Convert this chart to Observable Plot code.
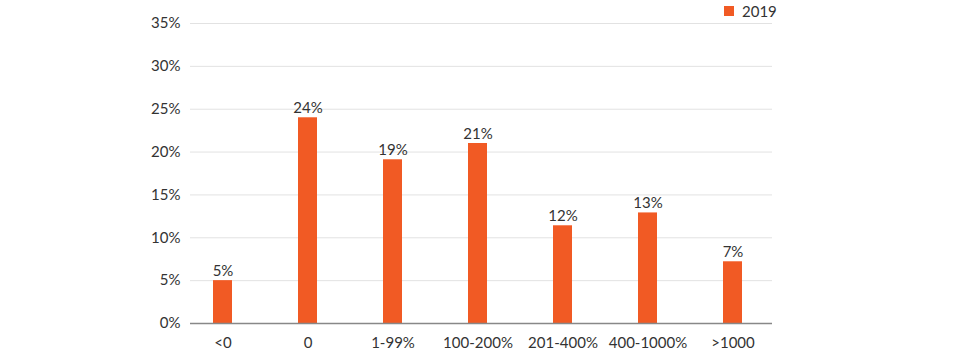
<!DOCTYPE html>
<html>
<head>
<meta charset="utf-8">
<script src="https://cdn.jsdelivr.net/npm/d3@7"></script>
<script src="https://cdn.jsdelivr.net/npm/@observablehq/plot@0.6"></script>
<style>
  html, body { margin: 0; padding: 0; background: #fff; }
  #wrap { position: relative; width: 960px; height: 360px; font-family: Lato, "Noto Sans", sans-serif; }
  #legend { position: absolute; left: 724px; top: 2px; display: flex; align-items: center; gap: 8px; font-size: 15px; color: #333; }
  #legend .sw { width: 10px; height: 10px; background: #f15a24; }
</style>
</head>
<body>
<div id="wrap">
  <div id="chart"></div>
  <div id="legend"><span class="sw"></span><span id="legendLabel"></span></div>
</div>
<script>
const categories = ["<0", "0", "1-99%", "100-200%", "201-400%", "400-1000%", ">1000"];
const values = [5.0, 24.0, 19.1, 21.0, 11.4, 12.9, 7.2];
const valueLabels = ["5%", "24%", "19%", "21%", "12%", "13%", "7%"];
const yTicks = [0, 5, 10, 15, 20, 25, 30, 35];
const seriesName = "2019";
const barColor = "#f15a24";

const data = categories.map((c, i) => ({category: c, value: values[i], label: valueLabels[i]}));

document.getElementById("legendLabel").textContent = seriesName;

const chart = Plot.plot({
  width: 960,
  height: 360,
  marginTop: 23,
  marginBottom: 37,
  marginLeft: 178,
  marginRight: 184,
  style: {fontFamily: "Lato, 'Noto Sans', sans-serif", fontSize: "15px", color: "#333"},
  x: {domain: categories, paddingInner: 0.78, paddingOuter: 0.39, label: null},
  y: {domain: [0, 35], label: null},
  marks: [
    Plot.ruleY(yTicks.filter(d => d > 0), {stroke: "#e2e2e2", strokeWidth: 1, insetLeft: 12, insetRight: 4}),
    Plot.barY(data, {x: "category", y: "value", fill: barColor}),
    Plot.ruleY([0], {stroke: "#888", strokeWidth: 1.5, insetLeft: 12, insetRight: 4}),
    Plot.text(data, {x: "category", y: "value", text: "label", lineAnchor: "bottom", dy: -5, fill: "#333", fontSize: 15}),
    Plot.axisY({ticks: yTicks, tickFormat: d => d + "%", tickSize: 0, tickPadding: 0, dx: 2, fontSize: 15, fill: "#333", label: null}),
    Plot.axisX({tickSize: 0, tickPadding: 14, fontSize: 15, fill: "#333", label: null})
  ]
});
document.getElementById("chart").appendChild(chart);
</script>
</body>
</html>
